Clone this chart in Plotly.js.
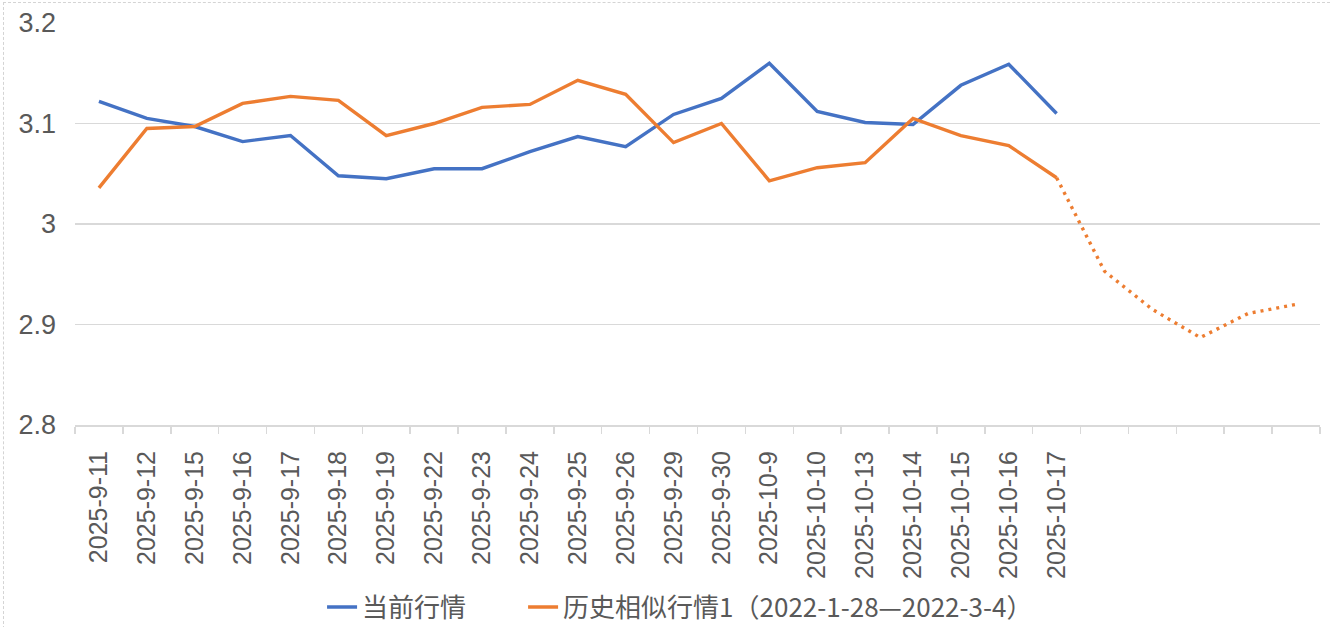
<!DOCTYPE html>
<html>
<head>
<meta charset="utf-8">
<script src="https://cdn.plot.ly/plotly-3.0.1.min.js"></script>
<style>
  html, body { margin: 0; padding: 0; background: #fff; overflow: hidden; }
  #wrap { position: relative; width: 1332px; height: 627px; }
  #chart { position: absolute; left: 0; top: 0; width: 1332px; height: 627px; }
  #frame { position: absolute; left: 3px; top: 2px; width: 1340px; height: 640px;
           border: 1px dashed #d4d4d4; pointer-events: none; }
</style>
</head>
<body>
<div id="wrap"><div id="chart"></div><div id="frame"></div></div>
<script>
// ---- data ----
const dates = ["2025-9-11","2025-9-12","2025-9-15","2025-9-16","2025-9-17","2025-9-18","2025-9-19",
  "2025-9-22","2025-9-23","2025-9-24","2025-9-25","2025-9-26","2025-9-29","2025-9-30",
  "2025-10-9","2025-10-10","2025-10-13","2025-10-14","2025-10-15","2025-10-16","2025-10-17"];
const extraSlots = 5; // unlabeled future slots
const currentSeries = [3.122,3.105,3.097,3.082,3.088,3.048,3.045,3.055,3.055,3.072,3.087,
  3.077,3.109,3.125,3.160,3.112,3.101,3.099,3.138,3.159,3.110];
const historySeries = [3.036,3.095,3.097,3.120,3.127,3.123,3.088,3.100,3.116,3.119,3.143,
  3.129,3.081,3.100,3.043,3.056,3.061,3.105,3.088,3.078,3.046];
const historyForward = [3.046,2.953,2.915,2.887,2.911,2.920]; // continues from last labeled date
const yTickVals = [2.8,2.9,3.0,3.1,3.2];
const yTickText = ["2.8","2.9","3","3.1","3.2"];
const nameCurrent = "当前行情";
const nameHistory = "历史相似行情1（2022-1-28—2022-3-4）";

const idx = dates.map((d,i)=>i);
const fwdX = historyForward.map((v,i)=>dates.length-1+i);
const totalSlots = dates.length + extraSlots;

const blue = "#4472C4", orange = "#ED7D31", txt = "#595959", grid = "#d9d9d9";

const traces = [
  {x: idx, y: currentSeries, name: nameCurrent + "\u2003\u2003", type: "scatter", mode: "lines",
   line: {color: blue, width: 3.4}},
  {x: idx, y: historySeries, name: nameHistory, type: "scatter", mode: "lines",
   line: {color: orange, width: 3.4}},
  {x: fwdX, y: historyForward, name: nameHistory, type: "scatter", mode: "lines",
   showlegend: false, line: {color: orange, width: 3.4, dash: "3px,5px"}}
];

const layout = {
  width: 1332, height: 627,
  margin: {l: 75, r: 12, t: 23, b: 202, autoexpand: false},
  paper_bgcolor: "#fff", plot_bgcolor: "#fff",
  font: {family: "Liberation Sans, Arial, 'Noto Sans CJK SC', sans-serif", color: txt},
  showlegend: true,
  legend: {orientation: "h", x: 0.486, xanchor: "center", y: -0.453, yanchor: "middle",
           font: {family: "'Noto Sans CJK SC', 'Liberation Sans', sans-serif", size: 26, color: txt},
           traceorder: "normal"},
  xaxis: {
    range: [-0.5, totalSlots - 0.5], fixedrange: true, automargin: false,
    tickmode: "array", tickvals: idx, ticktext: dates, tickangle: -90,
    ticks: "", ticklabelstandoff: 14,
    tickfont: {size: 25, color: txt},
    showgrid: false, zeroline: false,
    showline: true, linecolor: grid, linewidth: 2,
    minor: {tickmode: "linear", tick0: -0.5, dtick: 1, ticks: "outside", ticklen: 7,
            tickcolor: grid, tickwidth: 1.5, showgrid: false}
  },
  yaxis: {
    range: [2.8, 3.2], fixedrange: true, automargin: false,
    tickmode: "array", tickvals: yTickVals, ticktext: yTickText,
    ticks: "", ticklabelstandoff: 18,
    tickfont: {size: 27, color: txt},
    showgrid: true, gridcolor: grid, gridwidth: 1.5,
    zeroline: false, showline: false
  }
};

Plotly.newPlot("chart", traces, layout, {staticPlot: true, displayModeBar: false});
</script>
</body>
</html>
